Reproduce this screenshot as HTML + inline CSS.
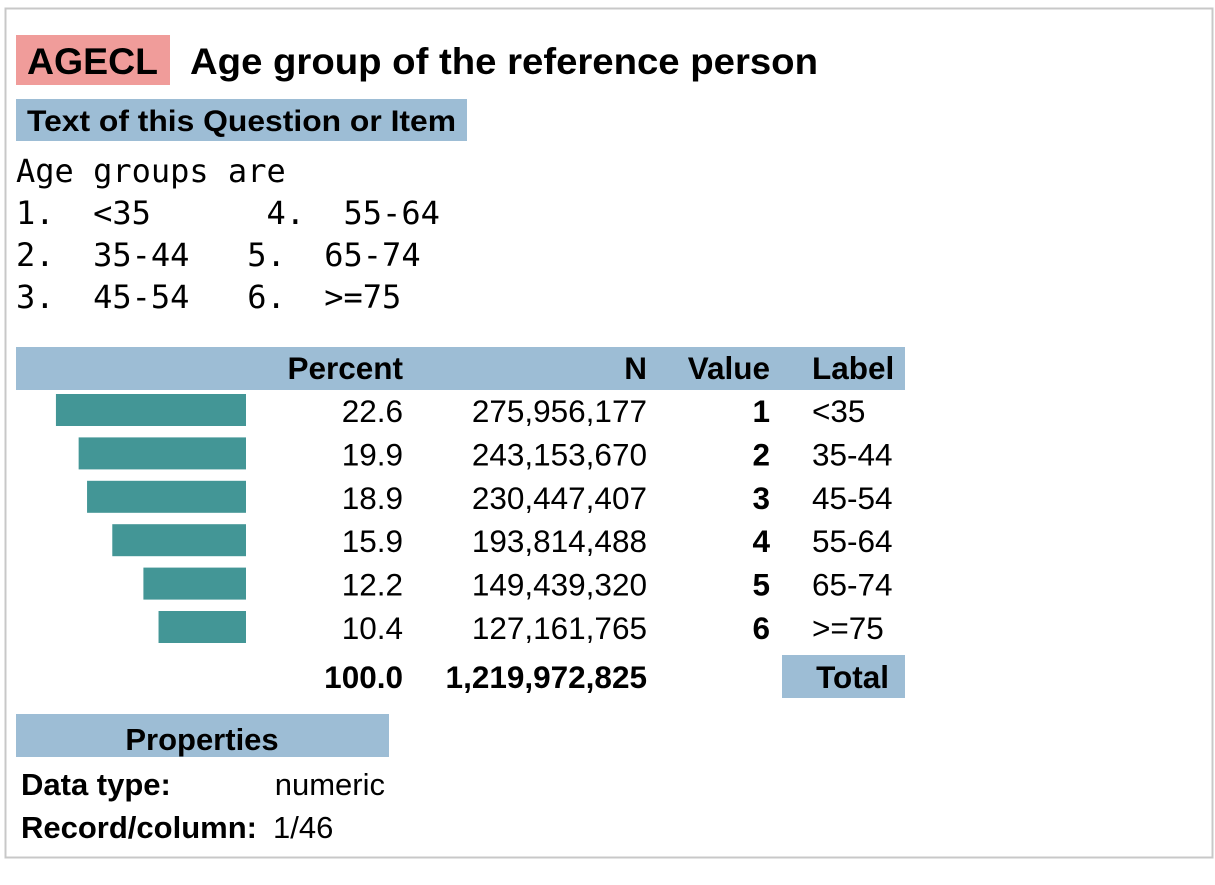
<!DOCTYPE html>
<html><head><meta charset="utf-8"><style>
html,body{margin:0;padding:0;background:#fff;}
svg{display:block;font-family:"Liberation Sans",Arial,sans-serif;}
.mono{font-family:"DejaVu Sans Mono","Liberation Mono",monospace;}
</style></head><body>
<svg id="chart" width="1215" height="885" viewBox="0 0 1215 885">
<rect x="5.5" y="8.5" width="1207" height="849" fill="#fff" stroke="#c8c8c8" stroke-width="2"/>
<rect x="16" y="35" width="154" height="50" fill="#f09c9a"/>
<text x="27" y="74" font-size="37" font-weight="bold" textLength="131" lengthAdjust="spacingAndGlyphs">AGECL</text>
<text x="190" y="74" font-size="37" font-weight="bold" textLength="628" lengthAdjust="spacingAndGlyphs">Age group of the reference person</text>
<rect x="16" y="99" width="451" height="42" fill="#9dbdd5"/>
<text x="27" y="131" font-size="30" font-weight="bold" textLength="429" lengthAdjust="spacingAndGlyphs">Text of this Question or Item</text>
<g class="mono" font-size="32">
<text x="16" y="182" xml:space="preserve">Age groups are</text>
<text x="16" y="224" xml:space="preserve">1.  &lt;35      4.  55-64</text>
<text x="16" y="266" xml:space="preserve">2.  35-44   5.  65-74</text>
<text x="16" y="308" xml:space="preserve">3.  45-54   6.  &gt;=75</text>
</g>
<rect x="16" y="347" width="889" height="43" fill="#9dbdd5"/>
<g font-size="31.5" font-weight="bold">
<text x="403" y="379" text-anchor="end">Percent</text>
<text x="647" y="379" text-anchor="end">N</text>
<text x="770" y="379" text-anchor="end">Value</text>
<text x="812" y="379">Label</text>
</g>
<g id="rows"></g>
<text x="403" y="688" text-anchor="end" font-size="31.5" font-weight="bold">100.0</text>
<text x="647" y="688" text-anchor="end" font-size="31.5" font-weight="bold">1,219,972,825</text>
<rect x="782" y="655" width="123" height="43" fill="#9dbdd5"/>
<text x="889" y="688" text-anchor="end" font-size="31.5" font-weight="bold">Total</text>
<rect x="16" y="714" width="373" height="43" fill="#9dbdd5"/>
<text x="202" y="750" text-anchor="middle" font-size="31" font-weight="bold">Properties</text>
<text x="21" y="795" font-size="31" font-weight="bold">Data type:</text>
<text x="385" y="795" text-anchor="end" font-size="31">numeric</text>
<text x="21" y="838" font-size="31" font-weight="bold">Record/column:</text>
<text x="273" y="838" font-size="31">1/46</text>
</svg>
<script>
const percents=[22.6,19.9,18.9,15.9,12.2,10.4];
const counts=["275,956,177","243,153,670","230,447,407","193,814,488","149,439,320","127,161,765"];
const values=["1","2","3","4","5","6"];
const labels=["<35","35-44","45-54","55-64","65-74",">=75"];
const NS="http://www.w3.org/2000/svg";
const g=document.getElementById('rows');
const barRight=246, pxPerPct=8.41;
function xScale(p){return p*pxPerPct;}
function rowTop(i){return 394+i*43.4;}
function mk(tag,attrs,txt){const e=document.createElementNS(NS,tag);for(const k in attrs)e.setAttribute(k,attrs[k]);if(txt!==undefined)e.textContent=txt;g.appendChild(e);return e;}
percents.forEach((p,i)=>{
  const y=rowTop(i), w=xScale(p);
  const b=mk('rect',{x:barRight-w,y:y,width:w,height:32,fill:'#439696'});
  
  
  const base=y+28;
  const t1=mk('text',{x:403,y:base,'text-anchor':'end','font-size':31.5},p.toFixed(1));
  
  
  const t2=mk('text',{x:647,y:base,'text-anchor':'end','font-size':31.5},counts[i]);
  
  
  const t3=mk('text',{x:770,y:base,'text-anchor':'end','font-size':31.5,'font-weight':'bold'},values[i]);
  
  
  const t4=mk('text',{x:812,y:base,'font-size':31.5},labels[i]);
  
  
});
</script>
</body></html>
